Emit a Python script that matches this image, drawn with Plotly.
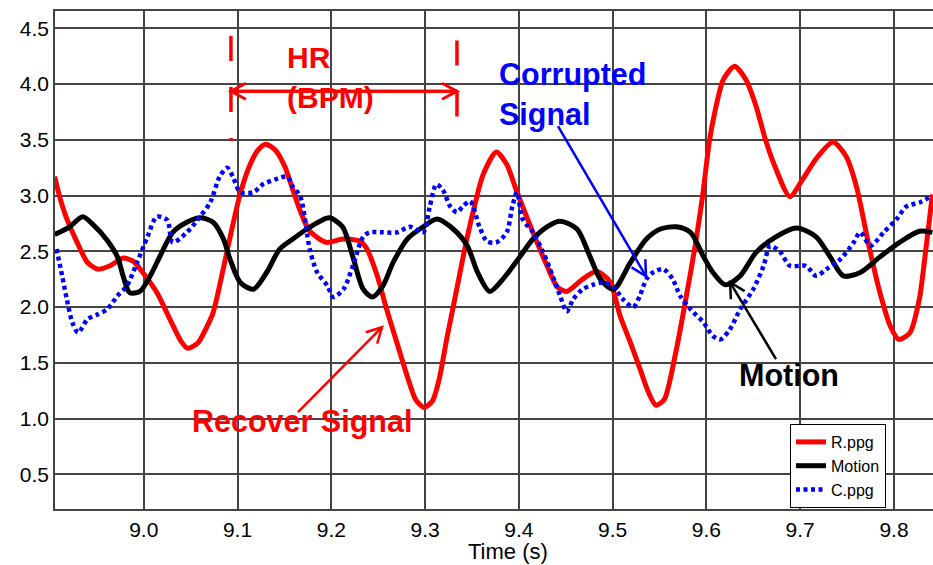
import math
import plotly.graph_objects as go

# ---- Recovered PPG (R.ppg) ----
r_time = [8.905, 8.911, 8.918, 8.929, 8.940, 8.951, 8.964, 8.978, 8.989, 8.999,
          9.014, 9.028, 9.040, 9.047, 9.058, 9.066, 9.074, 9.085, 9.094, 9.103,
          9.113, 9.122, 9.130, 9.140, 9.151, 9.159, 9.167, 9.177, 9.195, 9.212,
          9.231, 9.238, 9.249, 9.259, 9.270, 9.281, 9.290, 9.299, 9.308, 9.315,
          9.323, 9.334, 9.343, 9.352, 9.362, 9.376, 9.387, 9.398, 9.415, 9.430,
          9.441, 9.451, 9.468, 9.483, 9.497, 9.508, 9.519, 9.529, 9.538, 9.546,
          9.555, 9.567, 9.578, 9.588, 9.596, 9.603, 9.609, 9.618, 9.630, 9.642,
          9.653, 9.663, 9.674, 9.689, 9.703, 9.717, 9.735, 9.749, 9.760, 9.774,
          9.785, 9.796, 9.805, 9.817, 9.827, 9.834, 9.841]
r_ppg = [3.17, 2.97, 2.79, 2.58, 2.40, 2.34, 2.37, 2.44, 2.41, 2.31,
         2.13, 1.89, 1.69, 1.63, 1.68, 1.80, 1.95, 2.35, 2.70, 3.02,
         3.27, 3.41, 3.46, 3.41, 3.25, 3.05, 2.86, 2.68, 2.58, 2.61,
         2.59, 2.52, 2.28, 1.98, 1.68, 1.38, 1.17, 1.10, 1.16, 1.35,
         1.71, 2.17, 2.55, 2.88, 3.19, 3.39, 3.28, 3.03, 2.67, 2.37,
         2.18, 2.14, 2.25, 2.32, 2.23, 1.92, 1.68, 1.45, 1.24, 1.12,
         1.17, 1.58, 2.07, 2.55, 3.00, 3.48, 3.75, 4.04, 4.16, 4.04,
         3.80, 3.50, 3.24, 2.99, 3.15, 3.33, 3.48, 3.35, 3.08, 2.52,
         2.13, 1.83, 1.71, 1.77, 2.07, 2.52, 3.01]

# ---- Motion reference ----
m_time = [8.905, 8.921, 8.935, 8.946, 8.961, 8.972, 8.978, 8.985, 8.996, 9.007,
          9.017, 9.031, 9.046, 9.060, 9.074, 9.085, 9.092, 9.103, 9.117, 9.131,
          9.145, 9.159, 9.174, 9.188, 9.198, 9.212, 9.223, 9.234, 9.244, 9.255,
          9.266, 9.281, 9.298, 9.313, 9.330, 9.345, 9.356, 9.369, 9.383, 9.401,
          9.415, 9.430, 9.444, 9.462, 9.476, 9.487, 9.501, 9.519, 9.536, 9.551,
          9.568, 9.583, 9.597, 9.607, 9.620, 9.636, 9.653, 9.674, 9.696, 9.717,
          9.732, 9.746, 9.764, 9.785, 9.806, 9.827, 9.841]
motion = [2.65, 2.72, 2.81, 2.74, 2.60, 2.45, 2.28, 2.13, 2.14, 2.28,
          2.45, 2.67, 2.76, 2.80, 2.76, 2.61, 2.43, 2.22, 2.16, 2.31,
          2.52, 2.61, 2.70, 2.77, 2.80, 2.72, 2.45, 2.16, 2.09, 2.19,
          2.40, 2.61, 2.72, 2.79, 2.70, 2.55, 2.31, 2.14, 2.25, 2.45,
          2.61, 2.72, 2.77, 2.70, 2.45, 2.25, 2.16, 2.40, 2.61, 2.70,
          2.72, 2.67, 2.45, 2.31, 2.20, 2.28, 2.49, 2.63, 2.71, 2.63,
          2.45, 2.28, 2.31, 2.45, 2.58, 2.68, 2.67]

# ---- Corrupted PPG (C.ppg) ----
c_time = [8.907, 8.913, 8.918, 8.924, 8.930, 8.940, 8.950, 8.961, 8.972, 8.982,
          8.993, 9.004, 9.014, 9.025, 9.031, 9.046, 9.060, 9.071, 9.081, 9.089,
          9.095, 9.103, 9.117, 9.127, 9.142, 9.153, 9.159, 9.167, 9.177, 9.185,
          9.196, 9.202, 9.213, 9.223, 9.234, 9.241, 9.255, 9.270, 9.284, 9.298,
          9.305, 9.312, 9.319, 9.327, 9.334, 9.340, 9.348, 9.358, 9.366, 9.376,
          9.387, 9.393, 9.398, 9.404, 9.415, 9.426, 9.436, 9.444, 9.451, 9.458,
          9.468, 9.479, 9.490, 9.501, 9.511, 9.522, 9.529, 9.536, 9.543, 9.554,
          9.564, 9.572, 9.583, 9.597, 9.607, 9.615, 9.625, 9.636, 9.650, 9.661,
          9.668, 9.679, 9.689, 9.706, 9.717, 9.728, 9.743, 9.757, 9.764, 9.775,
          9.789, 9.803, 9.813, 9.828, 9.839]
c_ppg = [2.52, 2.28, 2.07, 1.86, 1.77, 1.89, 1.93, 1.98, 2.10, 2.19,
         2.40, 2.63, 2.81, 2.78, 2.58, 2.67, 2.81, 2.94, 3.17, 3.25,
         3.17, 3.03, 3.03, 3.10, 3.15, 3.17, 3.08, 2.99, 2.52, 2.31,
         2.19, 2.09, 2.16, 2.37, 2.63, 2.67, 2.67, 2.67, 2.72, 2.67,
         2.90, 3.10, 3.05, 2.90, 2.85, 2.90, 2.95, 2.72, 2.59, 2.58,
         2.67, 2.90, 3.03, 2.79, 2.67, 2.49, 2.28, 2.10, 1.96, 2.07,
         2.16, 2.20, 2.22, 2.18, 2.07, 2.00, 2.10, 2.25, 2.31, 2.34,
         2.25, 2.10, 1.98, 1.86, 1.74, 1.71, 1.80, 1.98, 2.16, 2.37,
         2.55, 2.49, 2.37, 2.37, 2.28, 2.34, 2.43, 2.58, 2.67, 2.55,
         2.67, 2.79, 2.90, 2.94, 2.99]

# axis ticks
x_ticks = [9.0, 9.1, 9.2, 9.3, 9.4, 9.5, 9.6, 9.7, 9.8]
y_ticks = [0.5, 1.0, 1.5, 2.0, 2.5, 3.0, 3.5, 4.0, 4.5]

# HR interval markers (s)
hr_start, hr_end = 9.093, 9.334

X_RANGE = [8.9054, 9.8416]
Y_RANGE = [0.189, 4.655]
W, H = 933, 565
M = dict(l=55, r=0, t=11, b=56)
PX_X = (W - M["l"] - M["r"]) / (X_RANGE[1] - X_RANGE[0])
PX_Y = (H - M["t"] - M["b"]) / (Y_RANGE[1] - Y_RANGE[0])

FONT = "Arial, 'Liberation Sans', sans-serif"
RED, BLUE, BLACK = "#ff0000", "#0000ff", "#000000"

fig = go.Figure()
fig.add_trace(go.Scatter(x=r_time, y=r_ppg, mode="lines", name="R.ppg",
                         line=dict(color=RED, width=5, shape="spline", smoothing=0.7)))
fig.add_trace(go.Scatter(x=m_time, y=motion, mode="lines", name="Motion",
                         line=dict(color=BLACK, width=5, shape="spline", smoothing=0.8)))
fig.add_trace(go.Scatter(x=c_time, y=c_ppg, mode="lines", name="C.ppg",
                         line=dict(color=BLUE, width=4.5, dash="4px,3.5px",
                                   shape="spline", smoothing=0.8)))


def arrow(x_tip, y_tip, x_tail, y_tail, color, width, head_len=15, head_half=8):
    """Line from tail to tip with an open V head at the tip."""
    shapes = [dict(type="line", x0=x_tail, y0=y_tail, x1=x_tip, y1=y_tip,
                   line=dict(color=color, width=width))]
    dx = (x_tip - x_tail) * PX_X
    dy = (y_tip - y_tail) * PX_Y
    n = math.hypot(dx, dy)
    ux, uy = dx / n, dy / n
    px, py = -uy, ux
    pts = []
    for s in (1, -1):
        bx = -ux * head_len + s * px * head_half
        by = -uy * head_len + s * py * head_half
        pts.append((x_tip + bx / PX_X, y_tip + by / PX_Y))
    path = f"M {pts[0][0]},{pts[0][1]} L {x_tip},{y_tip} L {pts[1][0]},{pts[1][1]}"
    shapes.append(dict(type="path", path=path, line=dict(color=color, width=width)))
    return shapes


shapes = []
# HR interval markers (dashes run from the top down)
for xv, top in ((hr_start, 4.43), (hr_end, 4.39)):
    shapes.append(dict(type="line", x0=xv, x1=xv, y0=top, y1=3.49,
                       line=dict(color=RED, width=3.5, dash="25px,26px")))
# two-headed HR arrow
shapes += arrow(hr_start, 3.935, hr_end, 3.935, RED, 3)
shapes += arrow(hr_end, 3.935, hr_start, 3.935, RED, 3)
# callout arrows
shapes += arrow(9.5356, 2.276, 9.4417, 3.622, BLUE, 2.5)
shapes += arrow(9.6252, 2.222, 9.6742, 1.533, BLACK, 2.5)
shapes += arrow(9.2541, 1.819, 9.1645, 1.057, RED, 2.5)

annotations = [
    dict(x=9.1509, y=4.241, text="HR", xanchor="left", font=dict(color=RED, size=30)),
    dict(x=9.1509, y=3.88, text="(BPM)", xanchor="left", font=dict(color=RED, size=30)),
    dict(x=9.3768, y=4.087, text="Corrupted", xanchor="left", font=dict(color=BLUE, size=30.5)),
    dict(x=9.3768, y=3.729, text="Signal", xanchor="left", font=dict(color=BLUE, size=30.5)),
    dict(x=9.688, y=1.388, text="Motion", font=dict(color=BLACK, size=30.5)),
    dict(x=9.169, y=0.975, text="Recover Signal", font=dict(color=RED, size=30.5)),
]
for a in annotations:
    a.update(xref="x", yref="y", showarrow=False, yanchor="middle")
    a["font"]["family"] = FONT
    a["text"] = "<b>" + a["text"] + "</b>"
annotations.append(dict(text="Time (s)", xref="paper", yref="paper",
                        x=(508 - M["l"]) / (W - M["l"] - M["r"]), y=1.0,
                        yshift=-(551 - M["t"]),
                        xanchor="center", yanchor="middle", showarrow=False,
                        font=dict(family=FONT, size=22, color=BLACK)))

GRID = "#444444"
fig.update_layout(
    width=W, height=H, margin=M,
    paper_bgcolor="white", plot_bgcolor="white",
    font=dict(family=FONT, color=BLACK, size=20),
    shapes=shapes, annotations=annotations,
    showlegend=True,
    legend=dict(x=(790 - M["l"]) / (W - M["l"]), y=1 - (424 - M["t"]) / (H - M["t"] - M["b"]),
                xanchor="left", yanchor="top", bgcolor="white",
                bordercolor=BLACK, borderwidth=1,
                font=dict(family=FONT, size=16, color=BLACK),
                tracegroupgap=0, itemwidth=30),
    xaxis=dict(range=X_RANGE, tickvals=x_ticks, ticktext=[f"{v:.1f}" for v in x_ticks],
               showgrid=True, gridcolor=GRID, gridwidth=1.5, zeroline=False,
               showline=True, linecolor=GRID, linewidth=1.5, mirror=True,
               ticks="outside", ticklen=1, tickcolor="rgba(0,0,0,0)",
               tickfont=dict(size=21), fixedrange=True),
    yaxis=dict(range=Y_RANGE, tickvals=y_ticks, ticktext=[f"{v:.1f}" for v in y_ticks],
               showgrid=True, gridcolor=GRID, gridwidth=1.5, zeroline=False,
               showline=True, linecolor=GRID, linewidth=1.5, mirror=False,
               ticks="", tickfont=dict(size=21), fixedrange=True),
)

fig.write_html("out.html")
